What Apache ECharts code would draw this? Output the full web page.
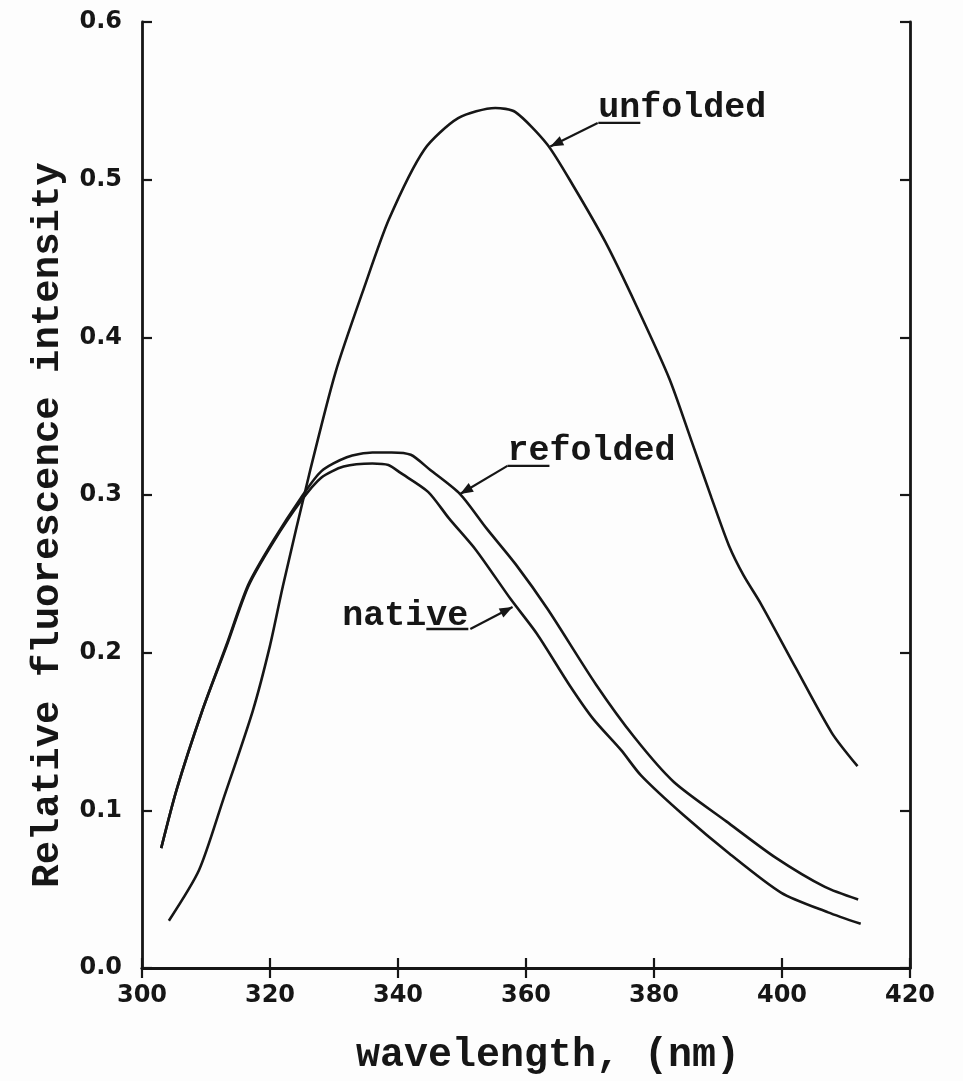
<!DOCTYPE html>
<html>
<head>
<meta charset="utf-8">
<script src="https://cdn.jsdelivr.net/npm/echarts@6/dist/echarts.min.js"></script>
<style>
html,body{margin:0;padding:0;background:#fdfdfd;}
#c{width:963px;height:1081px;}
</style>
</head>
<body>
<div id="c"></div>
<script>
// ---- data (wavelength nm, relative intensity) ----
const nativeX = [303.0,305.4,309.4,313.2,316.6,320.5,324.8,328,331.5,336,338.5,340.4,344.7,348.0,352.2,357.6,361.7,366.7,370.5,374.9,378,384.6,391.8,399.9,407.2,412.3];
const nativeY = [0.076,0.113,0.163,0.204,0.242,0.270,0.296,0.311,0.318,0.320,0.319,0.314,0.302,0.285,0.265,0.234,0.212,0.180,0.158,0.138,0.122,0.097,0.0725,0.0477,0.0353,0.028];

const refoldedX = [303.0,305.4,309.4,313.2,316.6,320.5,324.8,328,332,336,339,342,345,349.7,353.8,358.4,363.4,370.9,377,383.1,391.3,399.0,406.7,411.9];
const refoldedY = [0.076,0.113,0.163,0.205,0.243,0.271,0.298,0.315,0.324,0.327,0.327,0.3255,0.316,0.3006,0.279,0.256,0.2275,0.180,0.146,0.118,0.093,0.070,0.0514,0.0434];

const unfoldedX = [304.2,308.9,312.7,317.3,320,322,326.3,330.25,334.75,338.6,344.1,349.4,355.2,358.3,363.3,367.4,372.4,377.3,382.4,385.8,389,391.7,394,396.7,402.2,407.8,411.8];
const unfoldedY = [0.030,0.062,0.107,0.163,0.2045,0.242,0.316,0.378,0.432,0.475,0.519,0.539,0.5455,0.543,0.5225,0.496,0.4605,0.4196,0.3738,0.335,0.298,0.268,0.249,0.231,0.190,0.149,0.128];

const xTicks = [300,320,340,360,380,400,420];
const yTicks = [0.0,0.1,0.2,0.3,0.4,0.5,0.6];

// annotations: label, text baseline anchor (data), underline char range, arrow start/end (data)
const labels = [
  {text:'unfolded', at:[371.3,0.539], under:[0,2], arrowFrom:[371.2,0.536], arrowTo:[363.8,0.521]},
  {text:'refolded', at:[357.1,0.322], under:[0,2], arrowFrom:[357.1,0.3185], arrowTo:[349.7,0.3006]},
  {text:'native',   at:[331.3,0.217], under:[4,6], arrowFrom:[351.3,0.215], arrowTo:[357.9,0.229]}
];

const zip = (xs, ys) => xs.map((x,i)=>[x, ys[i]]);
const INK = '#161616';
const TITLE_FONT = '"Liberation Mono", "DejaVu Sans Mono", monospace';
const TICK_FONT = '"DejaVu Sans", sans-serif';

const chart = echarts.init(document.getElementById('c'), null, {renderer:'canvas'});

const lineSeries = (name, data) => ({
  name, type:'line', data, showSymbol:false, smooth:0.25,
  lineStyle:{color:INK, width:2.6}, z:3, animation:false
});

const baseAxisLine = {show:true, lineStyle:{color:INK, width:2.8}};
const tickStyle = {show:true, inside:true, length:10, lineStyle:{color:INK, width:2.2}};
const option = {
  backgroundColor:'#fdfdfd',
  animation:false,
  grid:{left:142, right:53, top:22, bottom:91},
  xAxis:[
    {type:'value', min:300, max:420, interval:20, position:'bottom',
     axisLine:baseAxisLine, axisTick:tickStyle,
     axisLabel:{color:INK, fontFamily:TICK_FONT, fontWeight:'bold', fontSize:24, margin:16,
                formatter:v=> xTicks.includes(v) ? String(v) : ''},
     splitLine:{show:false},
     name:'wavelength, (nm)', nameLocation:'middle', nameGap:68,
     nameTextStyle:{color:INK, fontFamily:TITLE_FONT, fontWeight:'bold', fontSize:40, padding:[0,0,0,44]}},
    {type:'value', min:300, max:420, interval:20, position:'top',
     axisLine:baseAxisLine, axisTick:tickStyle,
     axisLabel:{show:false}, splitLine:{show:false}}
  ],
  yAxis:[
    {type:'value', min:0, max:0.6, interval:0.1, position:'left',
     axisLine:baseAxisLine, axisTick:tickStyle,
     axisLabel:{color:INK, fontFamily:TICK_FONT, fontWeight:'bold', fontSize:24, margin:20,
                formatter:v=> yTicks.some(t=>Math.abs(t-v)<1e-9) ? v.toFixed(1) : ''},
     splitLine:{show:false},
     name:'Relative fluorescence intensity', nameLocation:'middle', nameGap:74,
     nameTextStyle:{color:INK, fontFamily:TITLE_FONT, fontWeight:'bold', fontSize:39, padding:[0,60,0,0]}},
    {type:'value', min:0, max:0.6, interval:0.1, position:'right',
     axisLine:baseAxisLine, axisTick:tickStyle,
     axisLabel:{show:false}, splitLine:{show:false}}
  ],
  series:[
    lineSeries('native', zip(nativeX, nativeY)),
    lineSeries('refolded', zip(refoldedX, refoldedY)),
    lineSeries('unfolded', zip(unfoldedX, unfoldedY))
  ]
};
chart.setOption(option);

// annotation graphics positioned through the chart's own coordinate system
const LABEL_SIZE = 35;
const charW = LABEL_SIZE * 0.6;
const g = [];
labels.forEach(l => {
  const p = chart.convertToPixel({gridIndex:0}, l.at);
  g.push({type:'text', x:p[0], y:p[1] + 8, z:10,
    style:{text:l.text, fill:INK, font:`bold ${LABEL_SIZE}px ${TITLE_FONT}`, verticalAlign:'bottom', align:'left'}});
  const uy = chart.convertToPixel({gridIndex:0}, l.arrowFrom)[1];
  g.push({type:'line', z:10, shape:{x1:p[0]+l.under[0]*charW, y1:uy, x2:p[0]+l.under[1]*charW, y2:uy},
    style:{stroke:INK, lineWidth:2.4}});
  const a = chart.convertToPixel({gridIndex:0}, l.arrowFrom);
  const b = chart.convertToPixel({gridIndex:0}, l.arrowTo);
  g.push({type:'line', z:10, shape:{x1:a[0], y1:a[1], x2:b[0], y2:b[1]}, style:{stroke:INK, lineWidth:2.2}});
  const ang = Math.atan2(b[1]-a[1], b[0]-a[0]);
  const L = 13, W = 5;
  const bx = b[0]-L*Math.cos(ang), by = b[1]-L*Math.sin(ang);
  g.push({type:'polygon', z:10, shape:{points:[[b[0],b[1]],[bx+W*Math.sin(ang), by-W*Math.cos(ang)],[bx-W*Math.sin(ang), by+W*Math.cos(ang)]]},
    style:{fill:INK}});
});
chart.setOption({graphic:g});
</script>
</body>
</html>
